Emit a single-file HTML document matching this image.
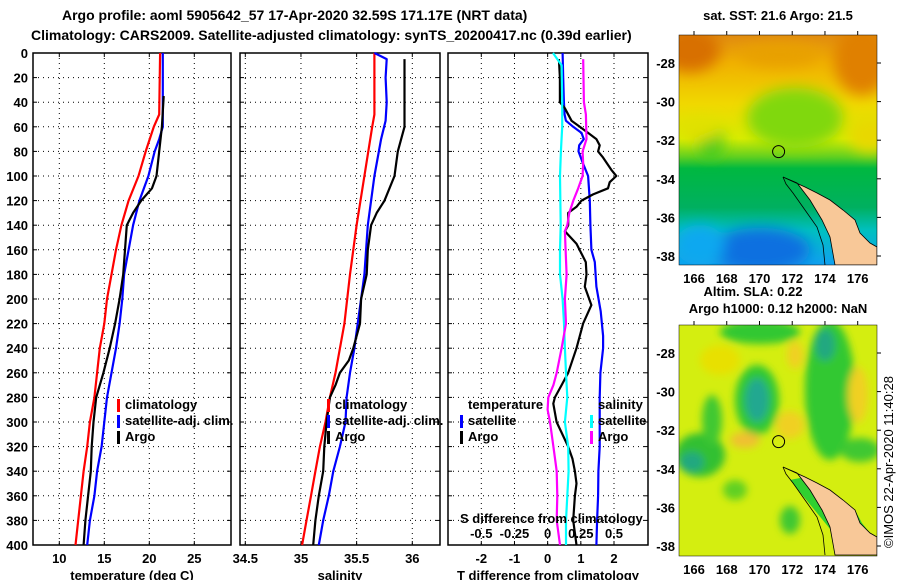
<!DOCTYPE html>
<html><head><meta charset="utf-8">
<style>
html,body{margin:0;padding:0;background:#fff;}
svg{display:block;font-family:"Liberation Sans",sans-serif;font-weight:bold;}
text{font-size:13px;fill:#000;}
</style></head>
<body>
<svg id="fig" width="900" height="580" viewBox="0 0 900 580" xmlns="http://www.w3.org/2000/svg">
<defs>
 <filter id="blur" x="-50%" y="-50%" width="200%" height="200%"><feGaussianBlur stdDeviation="7"/></filter>
 <filter id="blur2" x="-50%" y="-50%" width="200%" height="200%"><feGaussianBlur stdDeviation="4"/></filter>
 <clipPath id="clipTop"><rect x="679" y="35" width="198" height="230"/></clipPath>
 <clipPath id="clipBot"><rect x="679" y="325" width="198" height="231"/></clipPath>
 <linearGradient id="sstGrad" x1="0" y1="0" x2="0" y2="1">
  <stop offset="0" stop-color="#e08a10"/>
  <stop offset="0.12" stop-color="#f0b000"/>
  <stop offset="0.3" stop-color="#f0d800"/>
  <stop offset="0.45" stop-color="#d8ec00"/>
  <stop offset="0.53" stop-color="#60d020"/>
  <stop offset="0.58" stop-color="#00b840"/>
  <stop offset="0.75" stop-color="#00b060"/>
  <stop offset="0.85" stop-color="#00c0c0"/>
  <stop offset="1" stop-color="#10a0f0"/>
 </linearGradient>
</defs>

<g>
 <text x="62" y="20" style="font-size:14px">Argo profile: aoml 5905642_57 17-Apr-2020 32.59S 171.17E (NRT data)</text>
 <text x="31" y="40" style="font-size:14px">Climatology: CARS2009. Satellite-adjusted climatology: synTS_20200417.nc (0.39d earlier)</text>
</g>

<g id="panels"></g>

<!-- top map -->
<g>
 <text x="778" y="20" text-anchor="middle">sat. SST: 21.6 Argo: 21.5</text>
 <g clip-path="url(#clipTop)">
  <rect x="679" y="35" width="198" height="230" fill="url(#sstGrad)"/>
  <g filter="url(#blur)">
   <ellipse cx="690" cy="50" rx="30" ry="22" fill="#d87000"/>
   <ellipse cx="862" cy="60" rx="28" ry="35" fill="#e08000"/>
   <ellipse cx="780" cy="55" rx="40" ry="12" fill="#e8a000"/>
   <ellipse cx="795" cy="118" rx="48" ry="30" fill="#80d810"/>
   <ellipse cx="710" cy="140" rx="14" ry="18" fill="#30c820"/>
   <ellipse cx="870" cy="135" rx="22" ry="18" fill="#e8d800"/>
   <ellipse cx="700" cy="130" rx="20" ry="12" fill="#e0e000"/>
   <ellipse cx="760" cy="250" rx="50" ry="22" fill="#1070e0"/>
   <ellipse cx="700" cy="245" rx="25" ry="20" fill="#10a8f0"/>
  </g>
  <g>
   <polygon points="783,177 805,187 817,193 830,200 843,210 855,220 860,233 870,243 877,247 877,265 835,265 830,237 822,220 810,200 797,183" fill="#f8c898" stroke="#000" stroke-width="0.8"/>
   <polyline points="783,177 786,184 793,193 805,210 817,227 823,245 825,265" fill="none" stroke="#000" stroke-width="0.8"/>
  </g>
  <circle cx="778.6" cy="151.6" r="6" fill="none" stroke="#000" stroke-width="1"/>
 </g>
 <rect x="679" y="35" width="198" height="230" fill="none" stroke="#000" stroke-width="0.5"/>
</g>

<!-- bottom map -->
<g>
 <text x="753" y="296" text-anchor="middle">Altim. SLA: 0.22</text>
 <text x="778" y="313" text-anchor="middle">Argo h1000: 0.12 h2000: NaN</text>
 <g clip-path="url(#clipBot)">
  <rect x="679" y="325" width="198" height="231" fill="#d4ee10"/>
  <g filter="url(#blur2)">
   <ellipse cx="760" cy="332" rx="40" ry="12" fill="#30c830"/>
   <ellipse cx="830" cy="390" rx="25" ry="70" fill="#30c830"/>
   <ellipse cx="825" cy="345" rx="10" ry="16" fill="#20a880"/>
   <ellipse cx="757" cy="400" rx="22" ry="35" fill="#30c830"/>
   <ellipse cx="757" cy="400" rx="12" ry="22" fill="#20a890"/>
   <ellipse cx="700" cy="455" rx="25" ry="22" fill="#30c030"/>
   <ellipse cx="692" cy="462" rx="12" ry="10" fill="#20a880"/>
   <ellipse cx="712" cy="420" rx="10" ry="25" fill="#40c830"/>
   <ellipse cx="860" cy="450" rx="20" ry="12" fill="#40c830"/>
   <ellipse cx="790" cy="520" rx="10" ry="14" fill="#40c830"/>
   <ellipse cx="735" cy="490" rx="12" ry="10" fill="#60d020"/>
   <ellipse cx="745" cy="440" rx="15" ry="8" fill="#f0c030"/>
   <ellipse cx="790" cy="425" rx="14" ry="14" fill="#f0d020"/>
   <ellipse cx="795" cy="355" rx="8" ry="14" fill="#f0d020"/>
   <ellipse cx="858" cy="395" rx="10" ry="28" fill="#f0d020"/>
   <ellipse cx="720" cy="360" rx="20" ry="15" fill="#e8e000"/>
  </g>
  <g transform="translate(0,290)">
   <polygon points="790,190 805,187 817,193 830,200 843,210 855,220 862,233 870,243 877,250 877,265 840,265 835,245" fill="#30d030"/>
   <polygon points="783,177 805,187 817,193 830,200 843,210 855,220 860,233 870,243 877,247 877,265 835,265 830,237 822,220 810,200 797,183" fill="#f8c898" stroke="#000" stroke-width="0.8"/>
   <polyline points="783,177 786,184 793,193 805,210 817,227 823,245 825,265" fill="none" stroke="#000" stroke-width="0.8"/>
  </g>
  <circle cx="778.6" cy="441.6" r="6" fill="none" stroke="#000" stroke-width="1"/>
 </g>
 <rect x="679" y="325" width="198" height="231" fill="none" stroke="#000" stroke-width="0.5"/>
</g>
<text transform="translate(893,548) rotate(-90)" style="font-size:13px;font-weight:normal">©IMOS 22-Apr-2020 11:40:28</text>
<g id="maps-axes"></g>
</svg>
<script>
// ---- data (depth in m) ----
const depthTicks = [0,20,40,60,80,100,120,140,160,180,200,220,240,260,280,300,320,340,360,380,400];
const tempTicks = [10,15,20,25];
const salTicks = [34.5,35,35.5,36];
const tdiffTicks = [-2,-1,0,1,2];
const sdiffTicks = [-0.5,-0.25,0,0.25,0.5];
const latTicks = [-28,-30,-32,-34,-36,-38];
const lonTicks = [166,168,170,172,174,176];

const climTDepth = [0,50,60,80,100,120,140,160,180,200,220,240,260,280,300,320,340,360,380,400];
const climTemp   = [21.2,21.1,20.5,19.6,18.8,17.7,16.9,16.3,15.8,15.3,15.0,14.5,14.2,13.9,13.4,13.1,12.7,12.4,12.1,11.8];
const satTDepth  = [0,60,70,80,100,120,140,160,180,200,220,240,260,280,300,320,340,360,380,400];
const satTemp    = [21.5,21.5,21.1,20.6,19.9,18.9,18.2,17.7,17.2,17.0,16.7,16.3,15.8,15.3,15.0,14.7,14.2,13.9,13.4,13.1];
const argoTDepth = [35,60,80,100,110,120,130,140,160,180,200,220,240,260,280,300,320,340,360,380,400];
const argoTemp   = [21.6,21.4,21.1,20.8,20.3,19.1,18.2,17.5,17.3,17.1,16.7,16.2,15.6,14.9,14.1,13.8,13.6,13.5,13.2,12.9,12.7];

const climSDepth = [0,50,60,100,140,180,220,260,280,300,320,340,360,380,400];
const climSal    = [35.66,35.66,35.64,35.57,35.50,35.44,35.39,35.31,35.26,35.22,35.17,35.13,35.09,35.05,35.01];
const satSDepth  = [0,5,20,40,55,70,100,140,180,200,220,240,260,280,300,320,340,360,380,400];
const satSal     = [35.66,35.77,35.76,35.77,35.76,35.72,35.66,35.60,35.57,35.54,35.51,35.48,35.44,35.41,35.40,35.35,35.29,35.25,35.20,35.16];
const argoSDepth = [5,60,80,100,120,130,140,160,180,200,220,240,250,260,270,280,300,320,340,360,380,400];
const argoSal    = [35.93,35.93,35.87,35.84,35.75,35.68,35.63,35.60,35.59,35.54,35.53,35.47,35.43,35.35,35.31,35.26,35.23,35.21,35.20,35.16,35.13,35.11];

const satTdDepth = [0,20,40,50,55,60,65,70,75,80,90,100,120,140,160,170,190,210,230,240,260,280,300,320,340,360,380,400];
const satTdiff   = [0.45,0.47,0.49,0.51,0.55,0.77,1.02,1.09,0.95,0.93,1.07,1.22,1.27,1.29,1.32,1.42,1.47,1.6,1.67,1.67,1.59,1.57,1.57,1.57,1.53,1.52,1.49,1.47];
const argoTdDepth= [5,20,40,45,55,60,65,70,75,80,85,95,100,105,110,115,120,125,130,140,145,155,170,180,190,205,220,240,260,270,280,285,300,320,330,340,350,360,380,400];
const argoTdiff  = [0.34,0.37,0.37,0.52,0.72,0.97,1.22,1.47,1.57,1.52,1.67,1.92,2.07,1.87,1.82,1.37,1.02,0.87,0.62,0.62,0.52,0.87,1.15,1.17,1.12,1.32,1.07,0.87,0.62,0.42,0.22,0.17,0.27,0.62,0.75,0.82,0.87,0.82,0.77,0.87];
const satSdDepth = [0,10,40,60,80,100,140,160,180,200,220,240,260,280,300,320,340,360,380,400];
const satSdiff   = [0.04,0.105,0.11,0.11,0.10,0.093,0.098,0.093,0.093,0.113,0.123,0.13,0.138,0.148,0.13,0.155,0.158,0.148,0.138,0.138];
const argoSdDepth= [5,40,50,70,80,90,100,110,120,130,140,145,160,180,200,220,240,260,270,280,290,300,320,340,360,380,400];
const argoSdiff  = [0.268,0.273,0.288,0.293,0.263,0.268,0.263,0.23,0.193,0.163,0.148,0.13,0.135,0.143,0.13,0.138,0.105,0.068,0.043,0.005,0,0.018,0.043,0.068,0.073,0.068,0.093];

const NS='http://www.w3.org/2000/svg';
const Y0=53, Y1=545;
function yD(d){return Y0+(d/400)*(Y1-Y0);}
function lin(d0,d1,r0,r1){return v=>r0+(v-d0)/(d1-d0)*(r1-r0);}
const xT = lin(10,25,59.3,194.3);
const xS = lin(34.5,36,245.3,412.3);
const xTd = lin(-2,2,481.3,614);
const xSd = lin(-0.5,0.5,481.3,614);

const root=document.getElementById('panels');
function el(tag,attrs,parent){const e=document.createElementNS(NS,tag);for(const k in attrs)e.setAttribute(k,attrs[k]);(parent||root).appendChild(e);return e;}

function panel(name,x0,x1,xs,xticks,xlabels,title){
  const g=el('g',{});
  
  
  depthTicks.forEach(d=>{ if(d>0&&d<400){ const l=el('line',{x1:x0,x2:x1,y1:yD(d),y2:yD(d),stroke:'#000','stroke-width':1,'stroke-dasharray':'1 4'},g);
      }
    el('line',{x1:x0,x2:x0+4,y1:yD(d),y2:yD(d),stroke:'#000'},g); el('line',{x1:x1-4,x2:x1,y1:yD(d),y2:yD(d),stroke:'#000'},g);});
  xticks.forEach((v,i)=>{const x=xs(v);
    const l=el('line',{x1:x,x2:x,y1:Y0,y2:Y1,stroke:'#000','stroke-dasharray':'1 4'},g);
     
    el('line',{x1:x,x2:x,y1:Y0,y2:Y0+4,stroke:'#000'},g); el('line',{x1:x,x2:x,y1:Y1-4,y2:Y1,stroke:'#000'},g);
    if(xlabels){const t=el('text',{x:x,y:563,'text-anchor':'middle'},g);t.textContent=xlabels[i];
       }
  });
  el('rect',{x:x0,y:Y0,width:x1-x0,height:Y1-Y0,fill:'none',stroke:'#000','stroke-width':1.5},g);
  const tt=el('text',{x:(x0+x1)/2,y:580,'text-anchor':'middle'},g); tt.textContent=title;
   
  return g;
}
function line(g,name,xs,vals,depths,color){
  const pts=vals.map((v,i)=>xs(v).toFixed(1)+','+yD(depths[i]).toFixed(1)).join(' ');
  const p=el('polyline',{points:pts,fill:'none',stroke:color,'stroke-width':2.2,'stroke-linejoin':'round'},g);
  
  
}
function legend(g,x,y,items){
  items.forEach((it,i)=>{ if(it[1]) el('rect',{x:x,y:y+i*16-10,width:3,height:13,fill:it[1]},g);
    const t=el('text',{x:x+8,y:y+i*16},g); t.textContent=it[0];
     });
}

depthTicks.forEach(d=>{const t=el('text',{x:28,y:yD(d)+5,'text-anchor':'end'});t.textContent=d;
   });

const p1=panel('temperature-panel',33,231,xT,tempTicks,tempTicks,'temperature (deg C)');
line(p1,'temp-climatology-line',xT,climTemp,climTDepth,'#ff0000');
line(p1,'temp-satellite-line',xT,satTemp,satTDepth,'#0000ff');
line(p1,'temp-argo-line',xT,argoTemp,argoTDepth,'#000000');
legend(p1,117,409,[['climatology','#ff0000'],['satellite-adj. clim.','#0000ff'],['Argo','#000']]);

const p2=panel('salinity-panel',240,440,xS,salTicks,salTicks,'salinity');
line(p2,'sal-climatology-line',xS,climSal,climSDepth,'#ff0000');
line(p2,'sal-satellite-line',xS,satSal,satSDepth,'#0000ff');
line(p2,'sal-argo-line',xS,argoSal,argoSDepth,'#000000');
legend(p2,327,409,[['climatology','#ff0000'],['satellite-adj. clim.','#0000ff'],['Argo','#000']]);

const p3=panel('difference-panel',448,648,xTd,tdiffTicks,tdiffTicks,'T difference from climatology');
line(p3,'tdiff-satellite-line',xTd,satTdiff,satTdDepth,'#0000ff');
line(p3,'tdiff-argo-line',xTd,argoTdiff,argoTdDepth,'#000000');
line(p3,'sdiff-satellite-line',xSd,satSdiff,satSdDepth,'#00ffff');
line(p3,'sdiff-argo-line',xSd,argoSdiff,argoSdDepth,'#ff00ff');
legend(p3,460,409,[['temperature',null],['satellite','#0000ff'],['Argo','#000']]);
legend(p3,590,409,[['salinity',null],['satellite','#00ffff'],['Argo','#ff00ff']]);
{const t=el('text',{x:460,y:523},p3);t.textContent='S difference from climatology';
  
 sdiffTicks.forEach(v=>{const s=el('text',{x:xSd(v),y:538,'text-anchor':'middle'},p3);s.textContent=v;
   });}

const ma=document.getElementById('maps-axes');
[[35,63,265],[325,353,556]].forEach(([top,y28,bot])=>{
  const yl=lin(-28,-38,y28,y28+193);
  latTicks.forEach(v=>{const y=yl(v);const t=el('text',{x:675,y:y+5,'text-anchor':'end'},ma);t.textContent=v;
     
    el('line',{x1:877,x2:881,y1:y,y2:y,stroke:'#000'},ma);});
  const xl=lin(166,176,694,857.7);
  lonTicks.forEach(v=>{const x=xl(v);const t=el('text',{x:x,y:bot+18,'text-anchor':'middle'},ma);t.textContent=v;
     
    el('line',{x1:x,x2:x,y1:top-4,y2:top,stroke:'#000'},ma);});
});
</script>
</body></html>
